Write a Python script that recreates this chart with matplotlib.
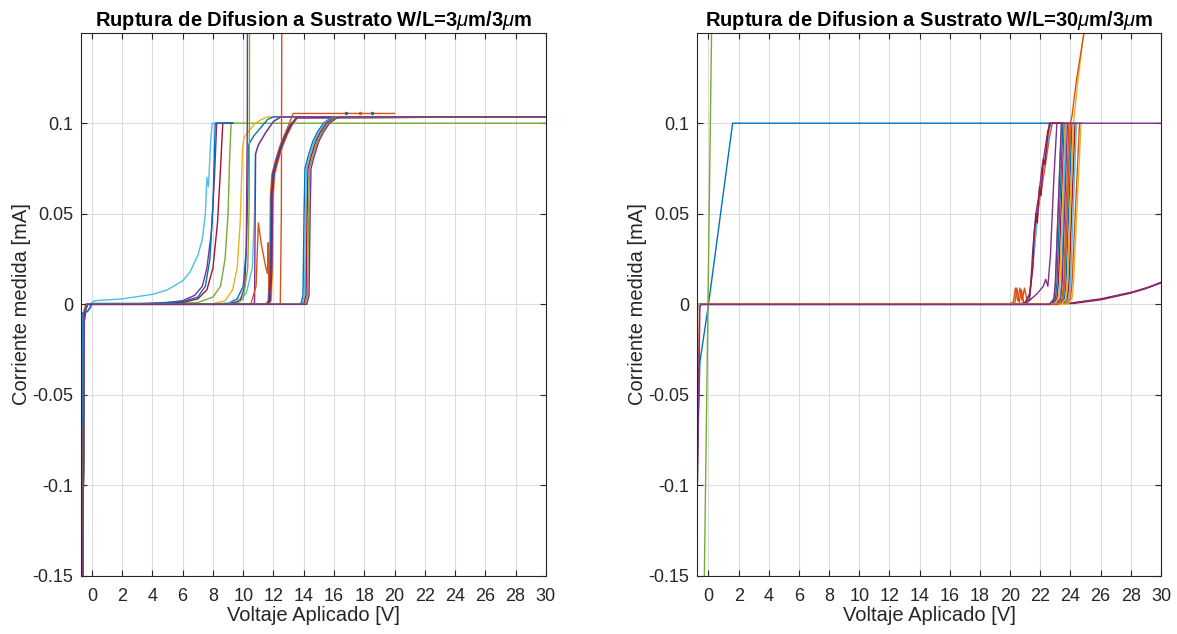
import matplotlib
matplotlib.use("Agg")
import matplotlib.pyplot as plt

plt.rcParams['font.family'] = ['Liberation Sans', 'DejaVu Sans']
plt.rcParams['mathtext.fontset'] = 'custom'
plt.rcParams['mathtext.it'] = 'Liberation Sans:italic'
plt.rcParams['mathtext.rm'] = 'Liberation Sans:bold'

# MATLAB default colour order
C1, C2, C3, C4, C5, C6, C7 = ('#0072BD', '#D95319', '#EDB120', '#7E2F8E',
                              '#77AC30', '#4DBEEE', '#A2142F')

x_ticks = list(range(0, 31, 2))
y_ticks = [-0.15, -0.1, -0.05, 0, 0.05, 0.1]
y_tick_labels = ['-0.15', '-0.1', '-0.05', '0', '0.05', '0.1']

# ---------------- left panel: W/L = 3um/3um ----------------
# breakdown near 8-9 V, compliance at 0.1
l_a1_x = [-0.65, -0.63, -0.6, -0.3, 0, 0.2, 2, 4, 5, 6, 6.5, 7, 7.3, 7.5, 7.6, 7.7, 7.85, 7.95, 9.3]
l_a1_y = [-0.15, -0.01, -0.005, -0.004, 0.001, 0.002, 0.003, 0.0055, 0.008, 0.013, 0.018, 0.027, 0.036, 0.05, 0.07, 0.065, 0.09, 0.1, 0.1]
l_a2_x = [-0.6, -0.55, -0.4, 0, 3, 5, 6, 6.8, 7.3, 7.6, 7.9, 8.1, 8.25, 9.3]
l_a2_y = [-0.15, -0.01, 0, 0, 0.0003, 0.001, 0.002, 0.005, 0.01, 0.02, 0.04, 0.07, 0.1, 0.1]
l_a3_x = [-0.6, -0.5, -0.35, 0, 4, 6, 7, 7.6, 8.0, 8.3, 8.5, 8.65, 9.3]
l_a3_y = [-0.15, -0.01, 0, 0, 0.0003, 0.001, 0.003, 0.008, 0.02, 0.045, 0.075, 0.1, 0.1]
l_a4_x = [-0.68, -0.66, -0.3, -0.1, 0, 4, 6, 7, 7.5, 7.8, 8.0, 8.15, 9.3]
l_a4_y = [-0.15, -0.005, -0.004, -0.002, 0.0005, 0.0005, 0.0015, 0.004, 0.01, 0.025, 0.055, 0.1, 0.1]
l_a5_x = [-0.62, -0.58, -0.4, 0, 5, 7, 8, 8.5, 8.8, 9.0, 9.1, 9.2, 30]
l_a5_y = [-0.15, -0.005, 0, 0, 0.0003, 0.001, 0.004, 0.01, 0.025, 0.05, 0.08, 0.1, 0.1]

# breakdown near 10-11 V
l_b1_x = [-0.6, -0.5, -0.3, 0, 6, 8, 8.8, 9.3, 9.6, 9.8, 9.95, 10.05, 10.4, 10.8, 11.2, 11.6, 30]
l_b1_y = [-0.15, -0.005, 0, 0, 0, 0.0003, 0.002, 0.008, 0.02, 0.045, 0.085, 0.092, 0.096, 0.1, 0.102, 0.1035, 0.1035]
l_b2_x = [-0.6, -0.5, -0.3, 0, 7, 9, 9.6, 10.0, 10.2, 10.3, 10.35, 10.7, 11.2, 11.6, 12.0, 30]
l_b2_y = [-0.15, -0.005, 0, 0, 0, 0.0005, 0.003, 0.01, 0.03, 0.06, 0.088, 0.093, 0.098, 0.102, 0.1035, 0.1035]
l_b3_x = [-0.6, -0.5, -0.3, 0, 8, 9.5, 10.2, 10.6, 10.75, 10.8, 11.0, 11.5, 12.0, 12.5, 30]
l_b3_y = [-0.15, -0.005, 0, 0, 0, 0.001, 0.006, 0.02, 0.05, 0.083, 0.088, 0.095, 0.101, 0.1035, 0.1035]
l_b4_x = [-0.6, -0.5, -0.3, 0, 9.0, 9.8, 10.1, 10.2, 10.27, 10.28]
l_b4_y = [-0.15, -0.005, 0, 0, 0, 0.002, 0.01, 0.03, 0.1, 0.16]
l_b5_x = [-0.6, -0.5, -0.3, 0, 10.6, 10.75, 10.82, 11.0, 11.5, 12.0, 12.5, 30]
l_b5_y = [-0.15, -0.005, 0, 0, 0, 0.001, 0.083, 0.088, 0.095, 0.101, 0.1035, 0.1035]
l_b6_x = [-0.6, -0.5, -0.3, 0, 9.5, 10.0, 10.3, 10.4, 10.42]
l_b6_y = [-0.15, -0.005, 0, 0, 0, 0.003, 0.02, 0.06, 0.16]
l_b7_x = [-0.6, -0.5, -0.3, 0, 10.5, 10.85, 11.0, 11.2, 11.5, 11.6, 11.65, 11.72, 12.45, 12.52, 12.55]
l_b7_y = [-0.15, -0.005, 0, 0, 0, 0.01, 0.045, 0.033, 0.02, 0.017, 0.034, 0.0, 0.0, 0.05, 0.16]

# breakdown near 12 V
l_c1_x = [-0.6, -0.5, -0.3, 0, 11.5, 11.65, 11.75, 11.8, 11.9, 12.15, 12.45, 12.75, 13.0, 13.3, 20]
l_c1_y = [-0.15, -0.005, 0, 0, 0, 0.002, 0.02, 0.06, 0.072, 0.08, 0.088, 0.094, 0.099, 0.1054, 0.1054]
l_c2_x = [-0.6, -0.5, -0.3, 0, 11.55, 11.7, 11.8, 11.85, 11.95, 12.2, 12.5, 12.8, 13.1, 13.5, 30]
l_c2_y = [-0.15, -0.005, 0, 0, 0, 0.002, 0.02, 0.06, 0.072, 0.08, 0.088, 0.094, 0.099, 0.103, 0.1035]
l_c3_x = [-0.6, -0.5, -0.3, 0, 11.6, 11.75, 11.85, 11.9, 12.0, 12.25, 12.55, 12.85, 13.15, 13.55, 30]
l_c3_y = [-0.15, -0.005, 0, 0, 0, 0.002, 0.02, 0.06, 0.072, 0.08, 0.088, 0.094, 0.099, 0.103, 0.1035]
l_c4_x = [-0.6, -0.5, -0.3, 0, 11.7, 11.85, 11.95, 12.0, 12.1, 12.35, 12.65, 12.95, 13.25, 13.6, 30]
l_c4_y = [-0.15, -0.005, 0, 0, 0, 0.002, 0.02, 0.06, 0.072, 0.08, 0.088, 0.094, 0.099, 0.103, 0.1035]
l_c5_x = [-0.6, -0.5, -0.3, 0, 11.65, 11.8, 11.9, 11.95, 12.05, 12.3, 12.6, 12.9, 13.2, 13.55, 30]
l_c5_y = [-0.15, -0.005, 0, 0, 0, 0.002, 0.02, 0.06, 0.072, 0.08, 0.088, 0.094, 0.099, 0.103, 0.1035]

# breakdown near 14 V
l_d1_x = [-0.6, -0.5, -0.3, 0, 13.8, 13.95, 14.02, 14.08, 14.3, 14.6, 14.9, 15.3, 15.8, 16.1, 30]
l_d1_y = [-0.15, -0.005, 0, 0, 0, 0.005, 0.05, 0.075, 0.082, 0.09, 0.095, 0.1, 0.103, 0.1035, 0.1035]
l_d2_x = [-0.6, -0.5, -0.3, 0, 13.9, 14.05, 14.12, 14.18, 14.4, 14.7, 15.0, 15.4, 15.9, 16.2, 30]
l_d2_y = [-0.15, -0.005, 0, 0, 0, 0.005, 0.05, 0.075, 0.082, 0.09, 0.095, 0.1, 0.103, 0.1035, 0.1035]
l_d3_x = [-0.6, -0.5, -0.3, 0, 14.0, 14.15, 14.22, 14.28, 14.5, 14.8, 15.1, 15.5, 16.0, 16.3, 30]
l_d3_y = [-0.15, -0.005, 0, 0, 0, 0.005, 0.05, 0.075, 0.082, 0.09, 0.095, 0.1, 0.103, 0.1035, 0.1035]
l_d4_x = [-0.6, -0.5, -0.3, 0, 14.1, 14.25, 14.32, 14.38, 14.6, 14.9, 15.2, 15.6, 16.1, 16.4, 30]
l_d4_y = [-0.15, -0.005, 0, 0, 0, 0.005, 0.05, 0.075, 0.082, 0.09, 0.095, 0.1, 0.103, 0.1035, 0.1035]
l_d5_x = [-0.6, -0.5, -0.3, 0, 14.2, 14.35, 14.42, 14.48, 14.7, 15.0, 15.3, 15.7, 16.2, 16.5, 30]
l_d5_y = [-0.15, -0.005, 0, 0, 0, 0.005, 0.05, 0.075, 0.082, 0.09, 0.095, 0.1, 0.103, 0.1035, 0.1035]

l_dots_x = [16.8, 17.7, 18.5]
l_dots_y = [0.1059, 0.1059, 0.1059]

# ---------------- right panel: W/L = 30um/3um ----------------
r_blue_x = [-0.79, -0.57, 0, 1.6, 22.9]
r_blue_y = [-0.099, -0.032, 0, 0.1, 0.1]
r_green_x = [-0.29, 0.22]
r_green_y = [-0.16, 0.16]
r_dark_x = [-0.8, -0.75, -0.7, 0]
r_dark_y = [-0.019, -0.005, 0, 0]

r_e1_x = [-0.75, 19.8, 20.2, 20.35, 20.5, 20.65, 20.8, 20.95, 21.1, 21.3, 21.6, 21.8, 22.0, 22.3, 22.6, 22.8, 23.5]
r_e1_y = [0, 0, 0.001, 0.009, 0.002, 0.009, 0.002, 0.009, 0.003, 0.005, 0.03, 0.05, 0.06, 0.075, 0.092, 0.1, 0.1]
r_e2_x = [-0.75, 20.5, 21.0, 21.3, 21.5, 21.6, 21.75, 21.8, 21.95, 22.05, 22.2, 22.3, 22.45, 22.6, 23.5]
r_e2_y = [0, 0, 0.001, 0.006, 0.02, 0.04, 0.05, 0.045, 0.065, 0.06, 0.08, 0.077, 0.09, 0.1, 0.1]
r_e3_x = [-0.75, 20.8, 21.3, 21.5, 21.7, 21.9, 22.1, 22.3, 22.5, 22.7, 23.5]
r_e3_y = [0, 0, 0.003, 0.03, 0.05, 0.06, 0.075, 0.085, 0.096, 0.1, 0.1]
r_e4_x = [-0.75, 21.0, 21.3, 21.6, 21.9, 22.3, 22.7, 23.5]
r_e4_y = [0, 0, 0.005, 0.03, 0.055, 0.08, 0.1, 0.1]
r_e5_x = [-0.75, 21.0, 21.4, 21.8, 22.2, 22.35, 22.5, 22.67, 22.9, 23.1, 23.5]
r_e5_y = [0, 0, 0.003, 0.006, 0.01, 0.0138, 0.01, 0.027, 0.07, 0.1, 0.1]
r_e6_x = [-0.75, 20.3, 20.45, 20.6, 20.75, 20.9, 21.2]
r_e6_y = [0, 0, 0.009, 0.001, 0.008, 0.001, 0.0]

# the dense group breaking down between 23 and 24.7 V
r_g1_x = [-0.75, 22.6, 22.9, 23.0, 23.4, 23.5]
r_g1_y = [0, 0, 0.003, 0.012, 0.1, 0.1]
r_g2_x = [-0.75, 22.7, 23.0, 23.1, 23.5, 23.6]
r_g2_y = [0, 0, 0.003, 0.012, 0.1, 0.1]
r_g3_x = [-0.75, 22.8, 23.1, 23.2, 23.6, 23.7]
r_g3_y = [0, 0, 0.003, 0.012, 0.1, 0.1]
r_g4_x = [-0.75, 22.9, 23.2, 23.3, 23.65, 23.8]
r_g4_y = [0, 0, 0.003, 0.012, 0.1, 0.1]
r_g5_x = [-0.75, 23.0, 23.3, 23.4, 23.7, 23.8]
r_g5_y = [0, 0, 0.003, 0.012, 0.1, 0.1]
r_g6_x = [-0.75, 23.05, 23.35, 23.45, 23.8, 23.9]
r_g6_y = [0, 0, 0.003, 0.012, 0.1, 0.1]
r_g7_x = [-0.75, 23.15, 23.45, 23.55, 23.9, 24.0]
r_g7_y = [0, 0, 0.003, 0.012, 0.1, 0.1]
r_g8_x = [-0.75, 23.2, 23.5, 23.6, 24.0, 24.1]
r_g8_y = [0, 0, 0.003, 0.012, 0.1, 0.1]
r_g9_x = [-0.75, 23.3, 23.6, 23.7, 24.1, 24.2]
r_g9_y = [0, 0, 0.003, 0.012, 0.1, 0.1]
r_g10_x = [-0.75, 23.4, 23.7, 23.8, 24.2, 24.3]
r_g10_y = [0, 0, 0.003, 0.012, 0.1, 0.1]
r_g11_x = [-0.75, 23.5, 23.8, 23.9, 24.3, 24.4]
r_g11_y = [0, 0, 0.003, 0.012, 0.1, 0.1]
r_g12_x = [-0.75, 23.6, 23.9, 24.0, 24.4, 24.5]
r_g12_y = [0, 0, 0.003, 0.012, 0.1, 0.1]
r_g13_x = [-0.75, 23.7, 24.0, 24.1, 24.6, 24.7]
r_g13_y = [0, 0, 0.003, 0.012, 0.1, 0.1]
r_g14_x = [-0.75, 23.8, 24.1, 24.2, 24.7, 24.8]
r_g14_y = [0, 0, 0.003, 0.012, 0.1, 0.1]

# curves that keep rising past the top
r_up1_x = [-0.74, -0.74, -0.6, -0.5, 23.2, 23.5, 23.6, 24.0, 24.1, 24.4, 24.8, 25.1]
r_up1_y = [-0.16, -0.1, -0.002, 0, 0, 0.003, 0.012, 0.1, 0.104, 0.124, 0.145, 0.16]
r_up2_x = [-0.75, 23.4, 23.7, 23.8, 24.2, 24.5, 24.8, 25.1]
r_up2_y = [0, 0, 0.003, 0.012, 0.1, 0.124, 0.145, 0.16]

# curves without breakdown in the range
r_s1_x = [-0.75, 22.0, 24.0, 26.0, 28.0, 29.0, 30.0]
r_s1_y = [0, 0, 0.0006, 0.0028, 0.0065, 0.009, 0.012]
r_s2_x = [-0.75, 22.3, 24.2, 26.0, 28.0, 29.0, 30.0]
r_s2_y = [0, 0, 0.0005, 0.0025, 0.0062, 0.0087, 0.0118]
r_s3_x = [-0.75, 22.0, 24.0, 26.0, 28.2, 29.2, 30.0]
r_s3_y = [0, 0, 0.0007, 0.003, 0.007, 0.0095, 0.0122]

r_last_x = [-0.73, -0.57, -0.5, 22.6, 22.9, 23.0, 23.4, 30]
r_last_y = [-0.098, -0.001, 0, 0, 0.003, 0.012, 0.1, 0.1]

left_lines = [
    (l_a5_x, l_a5_y, C5), (l_a1_x, l_a1_y, C6), (l_a2_x, l_a2_y, C4),
    (l_a3_x, l_a3_y, C7), (l_a4_x, l_a4_y, C1),
    (l_b1_x, l_b1_y, C3), (l_b2_x, l_b2_y, C1), (l_b3_x, l_b3_y, C6),
    (l_b4_x, l_b4_y, C4), (l_b5_x, l_b5_y, C4), (l_b6_x, l_b6_y, C5),
    (l_b7_x, l_b7_y, C2),
    (l_c1_x, l_c1_y, C2), (l_c2_x, l_c2_y, C1), (l_c3_x, l_c3_y, C7),
    (l_c4_x, l_c4_y, C3), (l_c5_x, l_c5_y, C4),
    (l_d1_x, l_d1_y, C1), (l_d2_x, l_d2_y, C6), (l_d3_x, l_d3_y, C7),
    (l_d4_x, l_d4_y, C5), (l_d5_x, l_d5_y, C4),
]
left_dot_colors = [C1, C2, C1]

right_lines = [
    (r_s1_x, r_s1_y, C2), (r_s2_x, r_s2_y, C7), (r_s3_x, r_s3_y, C4),
    (r_blue_x, r_blue_y, C1), (r_dark_x, r_dark_y, C1),
    (r_e6_x, r_e6_y, C2), (r_e1_x, r_e1_y, C2), (r_e4_x, r_e4_y, C6),
    (r_e3_x, r_e3_y, C4), (r_e5_x, r_e5_y, C4), (r_e2_x, r_e2_y, C7),
    (r_g1_x, r_g1_y, C5), (r_g2_x, r_g2_y, C1), (r_g3_x, r_g3_y, C7),
    (r_g4_x, r_g4_y, C3), (r_g5_x, r_g5_y, C6), (r_g6_x, r_g6_y, C4),
    (r_g7_x, r_g7_y, C2), (r_g8_x, r_g8_y, C5), (r_g9_x, r_g9_y, C1),
    (r_g10_x, r_g10_y, C3), (r_g11_x, r_g11_y, C7), (r_g12_x, r_g12_y, C6),
    (r_g13_x, r_g13_y, C2), (r_g14_x, r_g14_y, C3),
    (r_up2_x, r_up2_y, C3), (r_up1_x, r_up1_y, C2),
    (r_green_x, r_green_y, C5), (r_last_x, r_last_y, C4),
]

fig = plt.figure(figsize=(11.77, 6.34), dpi=100)
ax1 = fig.add_axes([0.0688, 0.0915, 0.395, 0.857])
ax2 = fig.add_axes([0.5922, 0.0915, 0.3942, 0.857])


def style_axes(ax, title, xmin):
    ax.set_xlim(xmin, 30)
    ax.set_ylim(-0.15, 0.15)
    ax.set_xticks(x_ticks)
    ax.set_yticks(y_ticks)
    ax.set_yticklabels(y_tick_labels)
    ax.grid(True, color='#dcdcdc', linewidth=0.8)
    ax.set_axisbelow(True)
    ax.tick_params(direction='in', top=True, right=True, length=4,
                   labelsize=13, colors='#262626', width=0.8)
    ax.tick_params(axis='x', pad=8.5)
    ax.tick_params(axis='y', pad=5.7)
    for s in ax.spines.values():
        s.set_color('#262626')
        s.set_linewidth(0.8)
    ax.set_xlabel('Voltaje Aplicado [V]', fontsize=14.5, color='#262626', labelpad=1)
    ax.set_ylabel('Corriente medida [mA]', fontsize=14.5, color='#262626', labelpad=1)
    ax.set_title(title, fontsize=14.5, fontweight='bold', pad=5)


for x, y, c in left_lines:
    ax1.plot(x, y, color=c, linewidth=1.0)
for xd, yd, c in zip(l_dots_x, l_dots_y, left_dot_colors):
    ax1.plot([xd], [yd], '.', color=c, markersize=3)

for x, y, c in right_lines:
    ax2.plot(x, y, color=c, linewidth=1.0)

style_axes(ax1, r'Ruptura de Difusion a Sustrato W/L=3$\mu$m/3$\mu$m', -0.72)
style_axes(ax2, r'Ruptura de Difusion a Sustrato W/L=30$\mu$m/3$\mu$m', -0.76)

fig.savefig('out.png', dpi=100)
